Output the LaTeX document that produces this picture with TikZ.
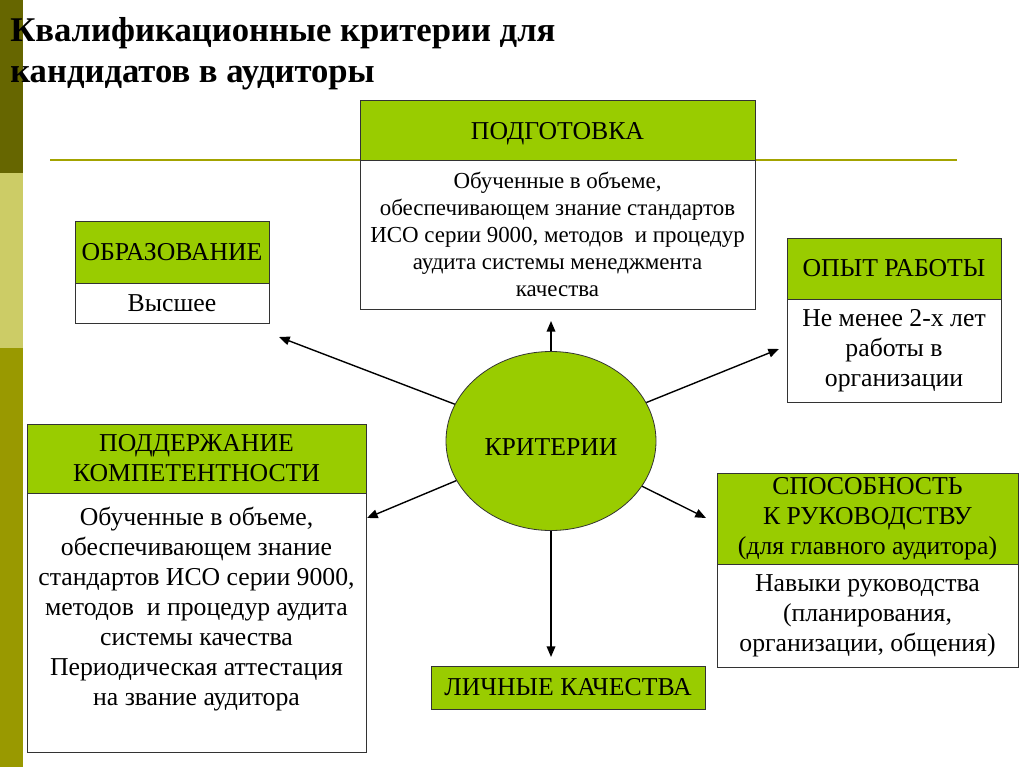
\documentclass[tikz,border=0pt]{standalone}
\usepackage{fontspec}
\setmainfont{Liberation Serif}
\usetikzlibrary{shapes.geometric,arrows.meta}
\definecolor{hdrgreen}{HTML}{99CC00}
\definecolor{bardark}{HTML}{666600}
\definecolor{barlight}{HTML}{CCCC66}
\definecolor{barmid}{HTML}{999900}
\definecolor{rulecol}{HTML}{A3A300}
\newcommand{\bpart}[7]{\node[#6, minimum width={(#4-#2)*0.75pt}, minimum height={(#5-#3)*0.75pt}] (#1) at ({(#2+#4)/2},{(#3+#5)/2}) {#7};}
\newcommand{\lowertxt}[2]{\raisebox{-#1}[\height][\depth]{#2}}
\tikzset{
  hdr/.style={draw=black!80, line width=0.6pt, fill=hdrgreen, inner sep=0pt, align=center, font=\fontsize{19.3}{22.5}\selectfont},
  bdy/.style={draw=black!80, line width=0.6pt, fill=white, inner sep=0pt, align=center, font=\fontsize{19.3}{22.5}\selectfont},
  bdys/.style={bdy, font=\fontsize{17.2}{20.25}\selectfont},
  conn/.style={line width=1.05pt, -{Triangle[length=8pt,width=6.5pt]}},
}
\begin{document}
\begin{tikzpicture}[x=0.75pt,y=-0.75pt]
\useasboundingbox (0,0) rectangle (1024,767);
\fill[white] (0,0) rectangle (1024,767);
% left bar
\fill[bardark] (0,0) rectangle (23,173);
\fill[barlight] (0,173) rectangle (23,348);
\fill[barmid] (0,348) rectangle (23,767);
% title
\node[anchor=north west, inner sep=0pt, align=left, font=\fontsize{26}{30.75}\selectfont\bfseries] (title) at (10,17) {Квалификационные критерии для\\кандидатов в аудиторы};
% rule
\draw[rulecol, line width=1.5pt] (50,160) -- (957,160);
% ПОДГОТОВКА
\bpart{podh}{360}{100}{755}{160}{hdr}{\lowertxt{3pt}{ПОДГОТОВКА}}
\bpart{podb}{360}{160}{755}{309}{bdys}{Обученные в объеме,\\обеспечивающем знание стандартов\\ИСО серии 9000, методов\ \ и процедур\\аудита системы менеджмента\\качества}
% ОБРАЗОВАНИЕ
\bpart{obrh}{75}{221}{269}{283}{hdr}{ОБРАЗОВАНИЕ}
\bpart{obrb}{75}{283}{269}{323}{bdy}{Высшее}
% ОПЫТ РАБОТЫ
\bpart{opyh}{787}{238}{1001}{299}{hdr}{ОПЫТ РАБОТЫ}
\bpart{opyb}{787}{299}{1001}{402}{bdy}{Не менее 2-х лет\\работы в\\организации}
% ПОДДЕРЖАНИЕ
\bpart{podd}{27}{424}{366}{493}{hdr}{ПОДДЕРЖАНИЕ\\КОМПЕТЕНТНОСТИ}
\node[bdy, minimum width={339*0.75pt}, minimum height={259*0.75pt}, anchor=north] (poddb) at (196.5,493) {};
\node[align=center, inner sep=0pt, anchor=north, font=\fontsize{19.3}{22.5}\selectfont] (poddt) at (196.5,507) {Обученные в объеме,\\обеспечивающем знание\\стандартов ИСО серии 9000,\\методов\ \ и процедур аудита\\системы качества\\Периодическая аттестация\\на звание аудитора};
% СПОСОБНОСТЬ
\bpart{sposh}{717}{473}{1018}{564}{hdr}{СПОСОБНОСТЬ\\К РУКОВОДСТВУ\\(для главного аудитора)}
\bpart{sposb}{717}{564}{1018}{667}{bdy}{Навыки руководства\\(планирования,\\организации, общения)}
% ЛИЧНЫЕ КАЧЕСТВА
\bpart{lich}{431}{666}{705}{709}{hdr}{ЛИЧНЫЕ КАЧЕСТВА}
% center ellipse
\node[ellipse, draw=black!80, line width=0.6pt, fill=hdrgreen, minimum width={210*0.75pt}, minimum height={179*0.75pt}, inner sep=0pt, font=\fontsize{19.3}{22.5}\selectfont] (crit) at (551,441) {\lowertxt{4.5pt}{КРИТЕРИИ}};
% arrow ends
\coordinate (eUp) at (551,321);
\coordinate (eUL) at (279,337);
\coordinate (eUR) at (779,349);
\coordinate (eLL) at (367,518);
\coordinate (eLR) at (706,518);
\coordinate (eDn) at (551,657);
\draw[conn] (crit) -- (eUp);
\draw[conn] (crit) -- (eUL);
\draw[conn] (crit) -- (eUR);
\draw[conn] (crit) -- (eLL);
\draw[conn] (crit) -- (eLR);
\draw[conn] (crit) -- (eDn);
\end{tikzpicture}
\end{document}
